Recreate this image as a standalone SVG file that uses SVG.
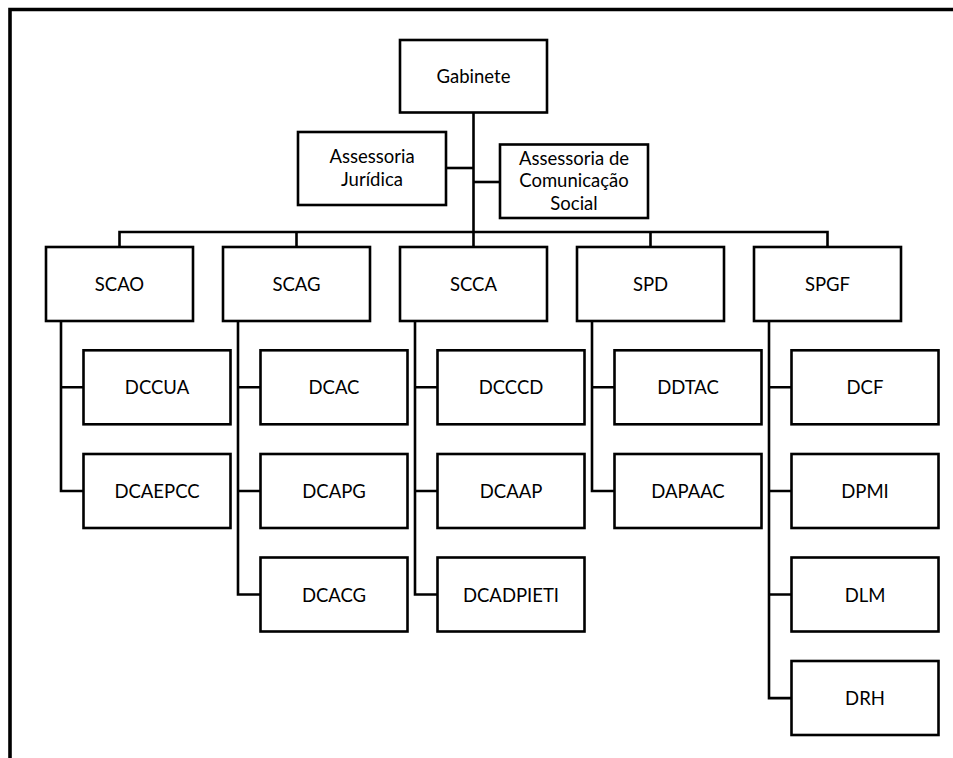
<svg xmlns="http://www.w3.org/2000/svg" width="953" height="758" viewBox="0 0 953 758">
<style>
.box{fill:#fff;stroke:#000;stroke-width:2.6}
.ln{fill:none;stroke:#000;stroke-width:2.6}
text{font-family:Lato,"Open Sans","Liberation Sans",sans-serif;font-size:18.5px;fill:#000;text-anchor:middle}
</style>
<rect width="953" height="758" fill="#fff"/>
<path d="M10,758 V9.5 H953" fill="none" stroke="#000" stroke-width="3.6"/>
<g id="connectors" class="ln">
<path d="M473.5,112.5 V232"/>
<path d="M446,168 H473.5"/>
<path d="M473.5,182 H500"/>
<path d="M119.5,247 V232 H827.5 V247"/>
<path d="M296.5,232 V247 M473.5,232 V247 M650.5,232 V247"/>
<path d="M61,321 V491 H83.5 M61,387.3 H83.5"/>
<path d="M238,321 V594.5 H260.5 M238,387.3 H260.5 M238,491 H260.5"/>
<path d="M415,321 V594.5 H437.5 M415,387.3 H437.5 M415,491 H437.5"/>
<path d="M592,321 V491 H614.5 M592,387.3 H614.5"/>
<path d="M769,321 V698.1 H791.5 M769,387.3 H791.5 M769,491 H791.5 M769,594.5 H791.5"/>
</g>
<g id="gabinete"><rect class="box" x="400" y="40" width="147" height="72.5"/><text x="473.5" y="83">Gabinete</text></g>
<g id="assessoria-juridica"><rect class="box" x="298" y="132" width="148" height="73"/><text x="372" y="163">Assessoria</text><text x="372" y="185.5">Jurídica</text></g>
<g id="assessoria-comunicacao"><rect class="box" x="500" y="144.5" width="148" height="73.5"/><text x="574" y="164.5">Assessoria de</text><text x="574" y="187">Comunicação</text><text x="574" y="209.5">Social</text></g>
<g id="scao"><rect class="box" x="46" y="247" width="147" height="74"/><text x="119.5" y="291">SCAO</text></g>
<g id="scag"><rect class="box" x="223" y="247" width="147" height="74"/><text x="296.5" y="291">SCAG</text></g>
<g id="scca"><rect class="box" x="400" y="247" width="147" height="74"/><text x="473.5" y="291">SCCA</text></g>
<g id="spd"><rect class="box" x="577" y="247" width="147" height="74"/><text x="650.5" y="291">SPD</text></g>
<g id="spgf"><rect class="box" x="754" y="247" width="147" height="74"/><text x="827.5" y="291">SPGF</text></g>
<g id="dccua"><rect class="box" x="83.5" y="350.3" width="147" height="74"/><text x="157" y="394.3">DCCUA</text></g>
<g id="dcaepcc"><rect class="box" x="83.5" y="454" width="147" height="74"/><text x="157" y="498">DCAEPCC</text></g>
<g id="dcac"><rect class="box" x="260.5" y="350.3" width="147" height="74"/><text x="334" y="394.3">DCAC</text></g>
<g id="dcapg"><rect class="box" x="260.5" y="454" width="147" height="74"/><text x="334" y="498">DCAPG</text></g>
<g id="dcacg"><rect class="box" x="260.5" y="557.5" width="147" height="74"/><text x="334" y="601.5">DCACG</text></g>
<g id="dcccd"><rect class="box" x="437.5" y="350.3" width="147" height="74"/><text x="511" y="394.3">DCCCD</text></g>
<g id="dcaap"><rect class="box" x="437.5" y="454" width="147" height="74"/><text x="511" y="498">DCAAP</text></g>
<g id="dcadpieti"><rect class="box" x="437.5" y="557.5" width="147" height="74"/><text x="511" y="601.5">DCADPIETI</text></g>
<g id="ddtac"><rect class="box" x="614.5" y="350.3" width="147" height="74"/><text x="688" y="394.3">DDTAC</text></g>
<g id="dapaac"><rect class="box" x="614.5" y="454" width="147" height="74"/><text x="688" y="498">DAPAAC</text></g>
<g id="dcf"><rect class="box" x="791.5" y="350.3" width="147" height="74"/><text x="865" y="394.3">DCF</text></g>
<g id="dpmi"><rect class="box" x="791.5" y="454" width="147" height="74"/><text x="865" y="498">DPMI</text></g>
<g id="dlm"><rect class="box" x="791.5" y="557.5" width="147" height="74"/><text x="865" y="601.5">DLM</text></g>
<g id="drh"><rect class="box" x="791.5" y="661" width="147" height="74"/><text x="865" y="705">DRH</text></g>
</svg>
